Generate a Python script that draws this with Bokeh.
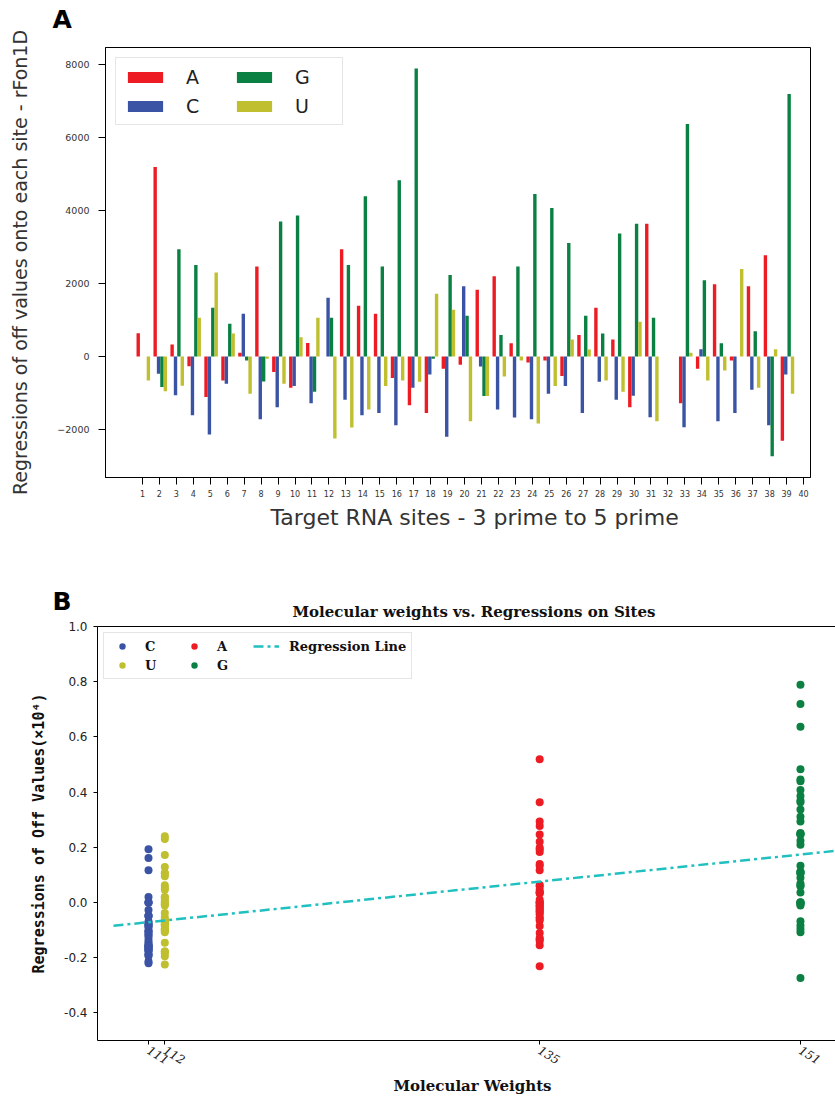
import math
import numpy as np
from bokeh.plotting import figure
from bokeh.models import (ColumnDataSource, Legend, LegendItem, FixedTicker, Label,
                          Range1d, LinearAxis, Title, Column)
from bokeh.embed import file_html
from bokeh.resources import INLINE

# ---------------- data ----------------
sites = list(range(1, 41))
nucleotides = ["A", "C", "G", "U"]
A_vals = [636, 5190, 327, -264, -1109, -655, 100, 2463, -427, -855,
          373, 0, 2936, 1391, 1173, -591, -1336, -1545, -336, -227,
          1827, 2200, 364, -164, -109, -536, 591, 1336, 464, -1391,
          3636, 0, -1282, -336, 1982, -109, 1927, 2773, -2309, 0]
C_vals = [0, -473, -1064, -1609, -2136, -745, 1173, -1718, -1391, -809,
          -1282, 1609, -1182, -1609, -1545, -1882, -855, -491, -2200, 1927,
          -273, -1455, -1673, -1718, -1018, -809, -1545, -691, -1182, -1073,
          -1664, 0, -1936, 200, -1773, -1545, -909, -1882, -491, 0]
G_vals = [0, -836, 2936, 2509, 1336, 900, -109, -682, 3700, 3863,
          -964, 1064, 2509, 4391, 2463, 4827, 7890, -64, 2236, 1118,
          -1082, 591, 2463, 4454, 4072, 3109, 1118, 627, 3373, 3636,
          1064, 0, 6372, 2091, 364, 0, 691, -2736, 7190, 0]
U_vals = [-655, -955, -800, 1064, 2300, 627, -1018, -64, -745, 527,
          1064, -2245, -1945, -1455, -809, -655, -691, 1718, 1282, -1773,
          -1082, -545, -109, -1836, -809, 464, 191, -655, -964, 955,
          -1773, 0, 100, -655, -382, 2400, -855, 200, -1018, 0]
mol_weights = {"C": 111, "U": 112, "A": 135, "G": 151}
yticks_a = [-2000, 0, 2000, 4000, 6000, 8000]
yticks_b = [-0.4, -0.2, 0.0, 0.2, 0.4, 0.6, 0.8, 1.0]

values = {"A": A_vals, "C": C_vals, "G": G_vals, "U": U_vals}
colors = {"A": "#ED1C24", "C": "#3A53A4", "G": "#0B8043", "U": "#BFBF2F"}
offsets = {"A": -0.25, "C": -0.05, "G": 0.15, "U": 0.35}
reg_color = "#20C0C0"

# ---------------- panel A ----------------
pa = figure(width=835, height=545, output_backend="svg", toolbar_location=None,
            x_range=Range1d(-1.18, 40.41), y_range=Range1d(-3315, 8466),
            min_border_left=105, min_border_right=25, min_border_top=47,
            min_border_bottom=68)
pa.title = None
pa.grid.visible = False
pa.outline_line_color = "black"
pa.outline_line_width = 1

renderers_a = {}
for n in nucleotides:
    src = ColumnDataSource(dict(x=[s + offsets[n] for s in sites], top=values[n]))
    renderers_a[n] = pa.vbar(x="x", top="top", bottom=0, width=0.2, source=src,
                             fill_color=colors[n], line_color=None)

pa.xaxis.ticker = FixedTicker(ticks=sites)
pa.yaxis.ticker = FixedTicker(ticks=yticks_a)
pa.yaxis.major_label_overrides = {t: (str(t).replace("-", "\u2212")) for t in yticks_a}
for ax in (pa.xaxis, pa.yaxis):
    ax.minor_tick_line_color = None
    ax.major_tick_in = 0
    ax.major_tick_out = 7
    ax.axis_line_color = "black"
    ax.major_tick_line_color = "black"
    ax.major_label_text_font = "DejaVu Sans"
    ax.major_label_text_color = "#333333"
pa.xaxis.major_label_text_font_size = "8px"
pa.yaxis.major_label_text_font_size = "9.5px"
pa.xaxis.major_label_standoff = 5
pa.yaxis.major_label_standoff = 9
pa.yaxis.axis_label = "Regressions of off values onto each site - rFon1D"
pa.yaxis.axis_label_text_font = "DejaVu Sans"
pa.yaxis.axis_label_text_font_style = "normal"
pa.yaxis.axis_label_text_font_size = "19px"
pa.yaxis.axis_label_text_color = "#333333"
pa.yaxis.axis_label_standoff = 23

leg_a = Legend(items=[LegendItem(label=n, renderers=[renderers_a[n]]) for n in nucleotides],
               location="top_left", orientation="vertical", nrows=2,
               glyph_width=44, glyph_height=14, label_standoff=19, label_width=40,
               label_height=23, spacing=6, padding=7, margin=10,
               label_text_font="DejaVu Sans", label_text_font_size="19px",
               label_text_color="#222222",
               border_line_color="#cccccc", border_line_width=1,
               background_fill_alpha=0.85)
pa.add_layout(leg_a)

pa.add_layout(Label(x=-53, y=28, x_units="screen", y_units="screen", text="A",
                    text_font="DejaVu Sans", text_font_style="bold",
                    text_font_size="25px", text_baseline="alphabetic",
                    text_color="black"), "above")
pa.add_layout(Title(text="Target RNA sites - 3 prime to 5 prime", align="left", offset=165,
                    standoff=6, text_font="DejaVu Sans", text_font_size="22px",
                    text_font_style="normal", text_color="#333333"), "below")

# ---------------- panel B ----------------
pb = figure(width=835, height=553, output_backend="svg", toolbar_location=None,
            x_range=Range1d(107.87, 153.15), y_range=Range1d(-0.5, 1.0),
            min_border_left=97, min_border_right=0, min_border_top=81,
            min_border_bottom=55)
pb.grid.visible = False
pb.outline_line_color = None
pb.title = None

renderers_b = {}
for n in ["C", "U", "A", "G"]:
    ys = [v / 1e4 for v in values[n]]
    src = ColumnDataSource(dict(x=[mol_weights[n]] * len(ys), y=ys))
    renderers_b[n] = pb.scatter(x="x", y="y", source=src, size=8,
                                fill_color=colors[n], line_color=None)

all_x = np.concatenate([[mol_weights[n]] * len(values[n]) for n in nucleotides])
all_y = np.concatenate([np.array(values[n]) / 1e4 for n in nucleotides])
slope, intercept = np.polyfit(all_x, all_y, 1)
line_x = np.array([108.85, 153.6])
reg = pb.line(x=line_x, y=slope * line_x + intercept, line_color=reg_color,
              line_width=2.5, line_dash="10 4 3 4")

pb.xaxis.ticker = FixedTicker(ticks=sorted(mol_weights.values()))
pb.yaxis.ticker = FixedTicker(ticks=yticks_b)
pb.yaxis.major_label_overrides = {t: f"{t:.1f}" for t in yticks_b}
for ax in (pb.xaxis, pb.yaxis):
    ax.minor_tick_line_color = None
    ax.major_tick_in = 0
    ax.major_tick_out = 4
    ax.axis_line_color = "black"
    ax.major_tick_line_color = "black"
    ax.major_label_text_color = "#222222"
pb.yaxis.major_label_text_font = "DejaVu Sans"
pb.yaxis.major_label_text_font_size = "12px"
pb.yaxis.major_label_standoff = 6
pb.xaxis.major_label_text_font = "DejaVu Serif"
pb.xaxis.major_label_text_font_style = "italic"
pb.xaxis.major_label_text_font_size = "12px"
pb.xaxis.major_label_orientation = -0.55
pb.xaxis.major_label_standoff = 4
pb.yaxis.axis_label = "Regressions of Off Values(\u00d710\u2074)"
pb.yaxis.axis_label_text_font = "DejaVu Sans Mono"
pb.yaxis.axis_label_text_font_style = "bold"
pb.yaxis.axis_label_text_font_size = "15px"
pb.yaxis.axis_label_text_color = "#111111"
pb.yaxis.axis_label_standoff = 13

top_axis = LinearAxis(ticker=FixedTicker(ticks=[]), major_label_text_font_size="0px",
                      major_tick_line_color=None, minor_tick_line_color=None,
                      axis_line_color="black")
pb.add_layout(top_axis, "above")
pb.add_layout(Title(text="Molecular weights vs. Regressions on Sites", align="left",
                    offset=195, standoff=11, text_font="DejaVu Serif",
                    text_font_style="bold", text_font_size="15px",
                    text_color="#111111"), "above")
pb.add_layout(Label(x=-45, y=-6, x_units="screen", y_units="screen", text="B",
                    text_font="DejaVu Sans", text_font_style="bold",
                    text_font_size="25px", text_baseline="alphabetic",
                    text_color="black"), "above")

pb.add_layout(Title(text="Molecular Weights", align="left", offset=296, standoff=7,
                    text_font="DejaVu Serif", text_font_style="bold",
                    text_font_size="15px", text_color="#111111"), "below")

leg_b = Legend(items=[LegendItem(label=n, renderers=[renderers_b[n]]) for n in ["C", "U", "A", "G"]]
               + [LegendItem(label="Regression Line", renderers=[reg])],
               location="top_left", orientation="vertical", nrows=2,
               glyph_width=26, glyph_height=16, label_standoff=10, label_width=33,
               label_height=16, spacing=3, padding=5, margin=6,
               label_text_font="DejaVu Serif", label_text_font_style="bold",
               label_text_font_size="13px", label_text_color="#111111",
               border_line_color="#cccccc", border_line_width=1,
               background_fill_alpha=0.85)
pb.add_layout(leg_b)

layout = Column(children=[Column(children=[pa]), Column(children=[pb])], spacing=0)
open("out.html", "w").write(file_html(layout, INLINE))
